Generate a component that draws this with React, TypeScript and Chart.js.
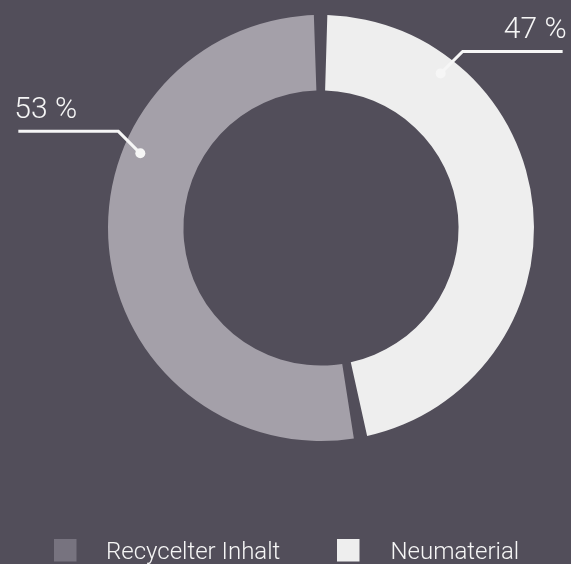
import React, { useEffect, useRef } from "react";
import { Chart, registerables } from "chart.js";

Chart.register(...registerables);

// ---- data ----
const categories = ["Recycelter Inhalt", "Neumaterial"];
const shares = [53, 47];
const valueLabels = ["53 %", "47 %"];
const sliceColors = ["#a4a0a9", "#eeeeee"];
const legendColors = ["#77737f", "#eeeeee"];
// where along each slice the callout dot sits (fraction of the slice's sweep)
const calloutFractions = [0.646, 0.223];

const BG = "#524e5a";
const INK = "#f6f6f6";
const FONT = "Roboto, 'Helvetica Neue', Arial, sans-serif";

const W = 571;
const H = 564;

const calloutPlugin = {
  id: "callouts",
  afterDatasetsDraw(chart: any) {
    const ctx = chart.ctx as CanvasRenderingContext2D;
    const meta = chart.getDatasetMeta(0);
    meta.data.forEach((arc: any, i: number) => {
      const p = arc.getProps(["x", "y", "startAngle", "endAngle", "outerRadius"], true);
      const a = p.startAngle + (p.endAngle - p.startAngle) * calloutFractions[i];
      const r = p.outerRadius - 14;
      const dx = p.x + Math.cos(a) * r;
      const dy = p.y + Math.sin(a) * r;
      const sign = Math.cos(a) < 0 ? -1 : 1;
      const ex = dx + sign * 22;
      const ey = dy - 22;
      const lx = ex + sign * 100;
      ctx.save();
      ctx.strokeStyle = INK;
      ctx.fillStyle = INK;
      ctx.lineWidth = 3;
      ctx.lineJoin = "miter";
      ctx.beginPath();
      ctx.moveTo(dx, dy);
      ctx.lineTo(ex, ey);
      ctx.lineTo(lx, ey);
      ctx.stroke();
      ctx.beginPath();
      ctx.arc(dx, dy, 5, 0, Math.PI * 2);
      ctx.fill();
      ctx.font = `300 30px ${FONT}`;
      ctx.textBaseline = "alphabetic";
      ctx.textAlign = sign < 0 ? "left" : "right";
      ctx.fillText(valueLabels[i], lx + (sign < 0 ? -4 : 4), ey - 13);
      ctx.restore();
    });
  },
};

const legendPlugin = {
  id: "bottomLegend",
  afterDraw(chart: any) {
    const ctx = chart.ctx as CanvasRenderingContext2D;
    const boxX = [54, 337];
    const textX = [106, 390.5];
    ctx.save();
    ctx.font = `300 24px ${FONT}`;
    ctx.textBaseline = "alphabetic";
    ctx.textAlign = "left";
    categories.forEach((c, i) => {
      ctx.fillStyle = legendColors[i];
      ctx.fillRect(boxX[i], 539, 22.5, 22.5);
      ctx.fillStyle = INK;
      ctx.fillText(c, textX[i], 559);
    });
    ctx.restore();
  },
};

export default function App() {
  const ref = useRef<HTMLCanvasElement | null>(null);

  useEffect(() => {
    document.body.style.margin = "0";
    document.body.style.background = BG;
    if (!ref.current) return;
    const total = shares.reduce((s, v) => s + v, 0);
    const chart = new Chart(ref.current, {
      type: "doughnut",
      data: {
        labels: categories,
        datasets: [
          {
            data: shares,
            backgroundColor: sliceColors,
            borderWidth: 0,
            spacing: 7,
          },
        ],
      },
      options: {
        animation: false,
        responsive: false,
        devicePixelRatio: 1,
        cutout: "64%",
        rotation: (360 * shares[1]) / total,
        layout: { padding: { left: 108, right: 37, top: 15, bottom: 123 } },
        plugins: {
          legend: { display: false },
          tooltip: { enabled: false },
        },
      },
      plugins: [calloutPlugin, legendPlugin],
    });
    return () => chart.destroy();
  }, []);

  return (
    <div style={{ width: W, height: H, background: BG, position: "relative" }}>
      <canvas ref={ref} width={W} height={H} style={{ display: "block", width: W, height: H }} />
    </div>
  );
}
